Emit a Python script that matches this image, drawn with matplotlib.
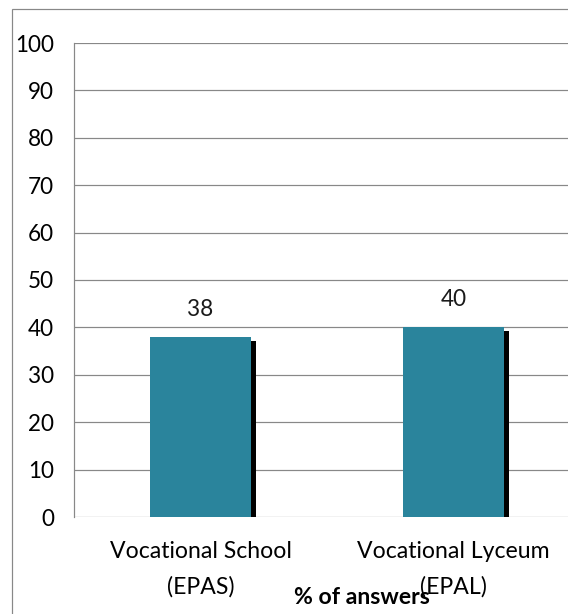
import matplotlib.pyplot as plt
from matplotlib.patches import Rectangle

categories = ["Vocational School\n(EPAS)", "Vocational Lyceum\n(EPAL)"]
values = [38, 40]
y_ticks = [0, 10, 20, 30, 40, 50, 60, 70, 80, 90, 100]

plt.rcParams['font.family'] = ['Lato', 'DejaVu Sans']

W, H = 568, 614
fig = plt.figure(figsize=(W / 72, H / 72), dpi=72)
# plot area runs past the right edge of the picture, as in the reference
ax = fig.add_axes([74 / W, 97 / H, 506 / W, 474 / H])

x = list(range(len(values)))
px_x = 2 / 506   # data units per pixel along x
px_y = 100 / 474
# black drop shadow behind each bar
ax.bar([i + 5 * px_x for i in x], [v - 4 * px_y for v in values], width=0.4,
       color='black', zorder=2)
ax.bar(x, values, width=0.4, color='#2a849c', zorder=3)

for i, v in zip(x, values):
    ax.annotate(str(v), (i, v), xytext=(0, 21), textcoords='offset points',
                ha='center', va='baseline', fontsize=22.5, color='#1a1a1a')

ax.set_xlim(-0.5, 1.5)
ax.set_ylim(0, 100)
ax.set_yticks(y_ticks)
ax.set_xticks(x)
ax.set_xticklabels(categories, fontsize=23, linespacing=1.8)
ax.tick_params(axis='y', length=0, pad=20, labelsize=22.5)
ax.tick_params(axis='x', length=0, pad=24)
ax.grid(axis='y', color='#888888', lw=1.2, zorder=1)
for s in ['top', 'right', 'bottom']:
    ax.spines[s].set_visible(False)
ax.spines['left'].set_color('#888888')
ax.spines['left'].set_linewidth(1.2)

# axis title sits low and overlaps the second category label, as in the reference
fig.text(362 / W, (H - 598) / H, '% of answers', ha='center', va='center',
         fontsize=23, fontweight='bold')

# outer chart border (only left and top edges fall inside the picture)
fig.add_artist(Rectangle((12 / W, -0.1), 2, (H - 9) / H + 0.1,
                         transform=fig.transFigure, fill=False,
                         ec='#888888', lw=1.2))

fig.savefig('out.png', dpi=72)
